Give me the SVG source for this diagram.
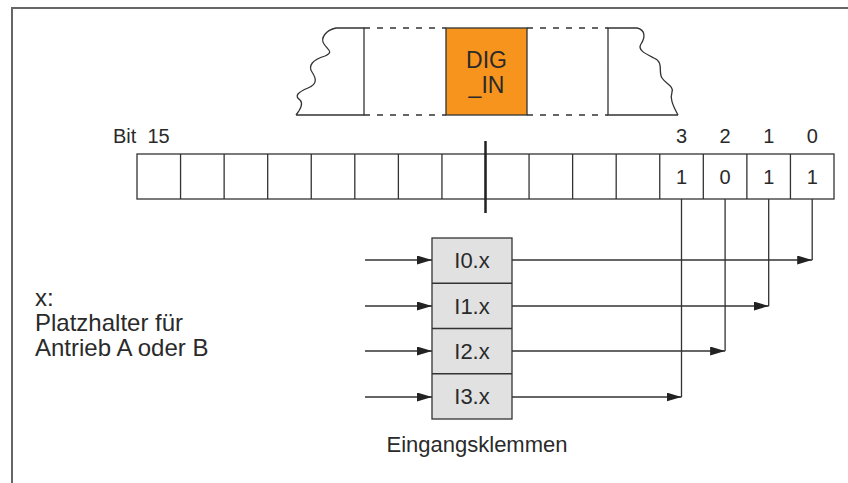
<svg xmlns="http://www.w3.org/2000/svg" width="848" height="483" viewBox="0 0 848 483">
<defs>
<style>
.t{font-family:"Liberation Sans",Arial,sans-serif;fill:#2a2a2a}
.ln{stroke:#333;stroke-width:1.3;fill:none}
.cell{stroke:#333;stroke-width:1.3;fill:#fff}
.dash{stroke:#333;stroke-width:1.3;stroke-dasharray:6 7;fill:none}
</style>
<marker id="ah" markerWidth="15" markerHeight="9" refX="15" refY="4.5" orient="auto" markerUnits="userSpaceOnUse">
<polygon points="0,0 15,4.5 0,9" fill="#222"/>
</marker>
</defs>
<rect width="848" height="483" fill="#fff"/>
<path d="M12,483 V8 H848" fill="none" stroke="#666" stroke-width="2"/>

<g id="strip">
<path class="ln" d="M296,115 H364 V28 H336 C326,30 320,38 324,44 C328,50 334,52 325,56 C312,60 308,66 312,72 C316,78 318,84 308,88 C298,92 294,96 300,100 C304,104 300,110 296,115"/>
<path class="ln" d="M678,115 H608 V28 H637 C646,30 645,38 641,44 C637,50 646,54 654,58 C664,62 658,72 662,78 C666,84 674,86 672,92 C670,98 672,104 678,115"/>
<path class="dash" d="M364,28 H446 M364,115 H446 M527,28 H608 M527,115 H608"/>
</g>
<g id="dig_in">
<rect x="446" y="28" width="81" height="87" fill="#F7941D" stroke="#333" stroke-width="1.3"/>
<text class="t" x="486.5" y="68" font-size="23" text-anchor="middle">DIG</text>
<text class="t" x="486.5" y="93" font-size="23" text-anchor="middle">_IN</text>
</g>

<g id="bitword">
<rect class="cell" x="137" y="154" width="697" height="45"/>
<path class="ln" d="M180.56,154V199M224.13,154V199M267.69,154V199M311.25,154V199M354.81,154V199M398.38,154V199M441.94,154V199M485.5,154V199M529.06,154V199M572.63,154V199M616.19,154V199M659.75,154V199M703.31,154V199M746.88,154V199M790.44,154V199"/>
<line x1="485.5" y1="141" x2="485.5" y2="213" stroke="#222" stroke-width="2.5"/>
<text class="t" x="113" y="143" font-size="20" xml:space="preserve">Bit  15</text>
<g font-size="20" text-anchor="middle" class="t">
<text class="t" x="681.5" y="143">3</text>
<text class="t" x="725.1" y="143">2</text>
<text class="t" x="768.7" y="143">1</text>
<text class="t" x="812.2" y="143">0</text>
<text class="t" x="681.5" y="184">1</text>
<text class="t" x="725.1" y="184">0</text>
<text class="t" x="768.7" y="184">1</text>
<text class="t" x="812.2" y="184">1</text>
</g>
</g>

<g id="inputs">
<rect x="432" y="238" width="80" height="181" fill="#e1e1e1" stroke="#333" stroke-width="1.3"/>
<path class="ln" d="M432,283.25H512M432,328.5H512M432,373.75H512"/>
<g font-size="22" text-anchor="middle">
<text class="t" x="472" y="268">I0.x</text>
<text class="t" x="472" y="313.5">I1.x</text>
<text class="t" x="472" y="358.5">I2.x</text>
<text class="t" x="472" y="404">I3.x</text>
</g>
</g>

<g id="connectors">
<path class="ln" marker-end="url(#ah)" d="M365,260H432"/>
<path class="ln" marker-end="url(#ah)" d="M365,306H432"/>
<path class="ln" marker-end="url(#ah)" d="M365,351H432"/>
<path class="ln" marker-end="url(#ah)" d="M365,397H432"/>
<path class="ln" marker-end="url(#ah)" d="M512,260H812.2"/>
<path class="ln" marker-end="url(#ah)" d="M512,306H768.7"/>
<path class="ln" marker-end="url(#ah)" d="M512,351H725.1"/>
<path class="ln" marker-end="url(#ah)" d="M512,397H681.5"/>
<path class="ln" d="M812.2,260V199M768.7,306V199M725.1,351V199M681.5,397V199"/>
</g>

<g id="legend">
<text class="t" x="35" y="306" font-size="24">x:</text>
<text class="t" x="35" y="331" font-size="24">Platzhalter für</text>
<text class="t" x="35" y="356" font-size="24">Antrieb A oder B</text>
<text class="t" x="477" y="452" font-size="22" text-anchor="middle">Eingangsklemmen</text>
</g>
</svg>
